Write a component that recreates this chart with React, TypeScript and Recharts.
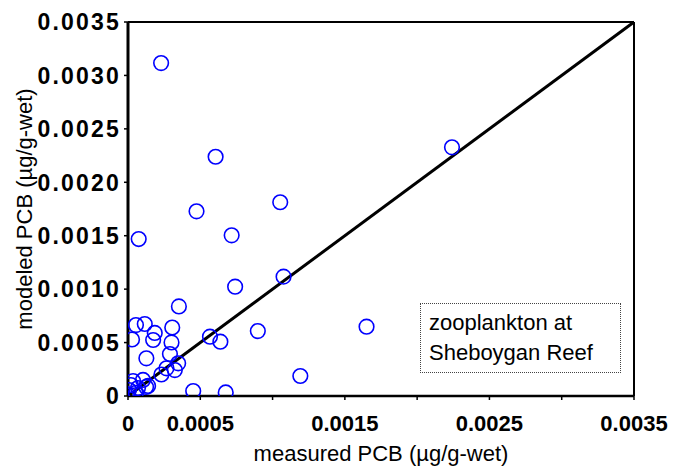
import React from "react";
import {
  ScatterChart,
  Scatter,
  XAxis,
  YAxis,
  ReferenceLine,
} from "recharts";

const measured = [
  0.000229, 0.000606, 0.001053, 0.000474, 0.000074, 0.000717, 0.000741, 0.001076,
  0.000352, 0.000898, 0.00165, 0.001192, 0.000451, 0.000676, 0.000567, 0.000639,
  0.000028, 0.000055, 0.000116, 0.000185, 0.000174, 0.000306, 0.000301, 0.000127,
  0.00029, 0.000347, 0.000324, 0.000266, 0.000231, 0.002241, 0.000007, 0.000035,
  0.000104, 0.000069, 0.000002, 0.000125, 0.00002, 0.000055, 0.000139,
];
const modeled = [
  0.003116, 0.002239, 0.001813, 0.001728, 0.001469, 0.001504, 0.001023, 0.001117,
  0.000838, 0.000608, 0.000649, 0.000187, 0.000047, 0.000033, 0.000555, 0.000508,
  0.000529, 0.000664, 0.000674, 0.00059, 0.000524, 0.000641, 0.000501, 0.000353,
  0.000393, 0.000306, 0.000243, 0.000259, 0.000201, 0.002327, 0.000056, 0.00014,
  0.00015, 0.000075, 0.000005, 0.000084, 0.000103, 0.00003, 0.000094,
];

const axisTicks = [0, 0.0005, 0.001, 0.0015, 0.002, 0.0025, 0.003, 0.0035];
const xTickLabels = ["0", "0.0005", "", "0.0015", "", "0.0025", "", "0.0035"];
const yTickLabels = ["0", "0.0005", "0.0010", "0.0015", "0.0020", "0.0025", "0.0030", "0.0035"];
const oneToOne = [0, 0.0035];
const legendLines = ["zooplankton at", "Sheboygan Reef"];

const points = measured.map((m, i) => ({ x: m, y: modeled[i] }));

const FONT = "'Liberation Sans', Arial, sans-serif";

const RingShape = (props: any) => {
  const { cx, cy } = props;
  return <circle cx={cx} cy={cy} r={7.3} fill="none" stroke="#0000ff" strokeWidth={1.6} />;
};

const YTick = (props: any) => {
  const { x, y, payload } = props;
  const idx = axisTicks.findIndex((t) => Math.abs(t - payload.value) < 1e-9);
  return (
    <text
      x={x + 2}
      y={y}
      dy="0.36em"
      textAnchor="end"
      fill="#000"
      fontSize={23}
      fontFamily={FONT}
      fontWeight={700}
      style={{ letterSpacing: "2.2px" }}
    >
      {yTickLabels[idx] ?? ""}
    </text>
  );
};

export default function App() {
  return (
    <div style={{ position: "absolute", left: 0, top: 0, width: 677, height: 472, background: "#fff" }}>
      <ScatterChart
        width={677}
        height={472}
        margin={{ top: 22, right: 43, bottom: 0, left: 0 }}
      >
        <XAxis
          type="number"
          dataKey="x"
          domain={[0, 0.0035]}
          ticks={axisTicks}
          interval={0}
          allowDataOverflow
          height={76}
          tickFormatter={(v: number) => xTickLabels[axisTicks.findIndex((t) => Math.abs(t - v) < 1e-9)] ?? ""}
          axisLine={{ stroke: "#000", strokeWidth: 2.5 }}
          tickLine={{ stroke: "#000", strokeWidth: 1.5 }}
          tickSize={4}
          tickMargin={15}
          tick={{ fill: "#000", fontSize: 22, fontFamily: FONT, fontWeight: 700 }}
          label={{
            value: "measured PCB (µg/g-wet)",
            position: "insideBottom",
            offset: 11,
            style: { fill: "#000", fontSize: 22, fontFamily: FONT },
          }}
        />
        <YAxis
          type="number"
          dataKey="y"
          domain={[0, 0.0035]}
          ticks={axisTicks}
          interval={0}
          allowDataOverflow
          width={128}
          axisLine={{ stroke: "#000", strokeWidth: 3 }}
          tickLine={{ stroke: "#000", strokeWidth: 1.5 }}
          tickSize={4}
          tickMargin={5}
          tick={<YTick />}
          label={{
            value: "modeled PCB (µg/g-wet)",
            angle: -90,
            position: "insideLeft",
            offset: 24,
            textAnchor: "middle",
            style: { fill: "#000", fontSize: 22, fontFamily: FONT, textAnchor: "middle" },
          }}
        />
        <ReferenceLine y={oneToOne[1]} stroke="#000" strokeWidth={2} ifOverflow="visible" />
        <ReferenceLine x={oneToOne[1]} stroke="#000" strokeWidth={2} ifOverflow="visible" />
        <Scatter data={points} shape={RingShape} isAnimationActive={false} />
        <ReferenceLine
          segment={[
            { x: oneToOne[0], y: oneToOne[0] },
            { x: oneToOne[1], y: oneToOne[1] },
          ]}
          stroke="#000"
          strokeWidth={3}
          ifOverflow="visible"
        />
      </ScatterChart>
      <div
        style={{
          position: "absolute",
          left: 420,
          top: 303,
          width: 201,
          height: 70,
          border: "1px dotted #444",
          boxSizing: "border-box",
          fontFamily: FONT,
          fontSize: 22,
          lineHeight: "30px",
          color: "#000",
          paddingLeft: 8,
          paddingTop: 4,
          background: "#fff",
        }}
      >
        {legendLines.map((l) => (
          <div key={l}>{l}</div>
        ))}
      </div>
    </div>
  );
}
